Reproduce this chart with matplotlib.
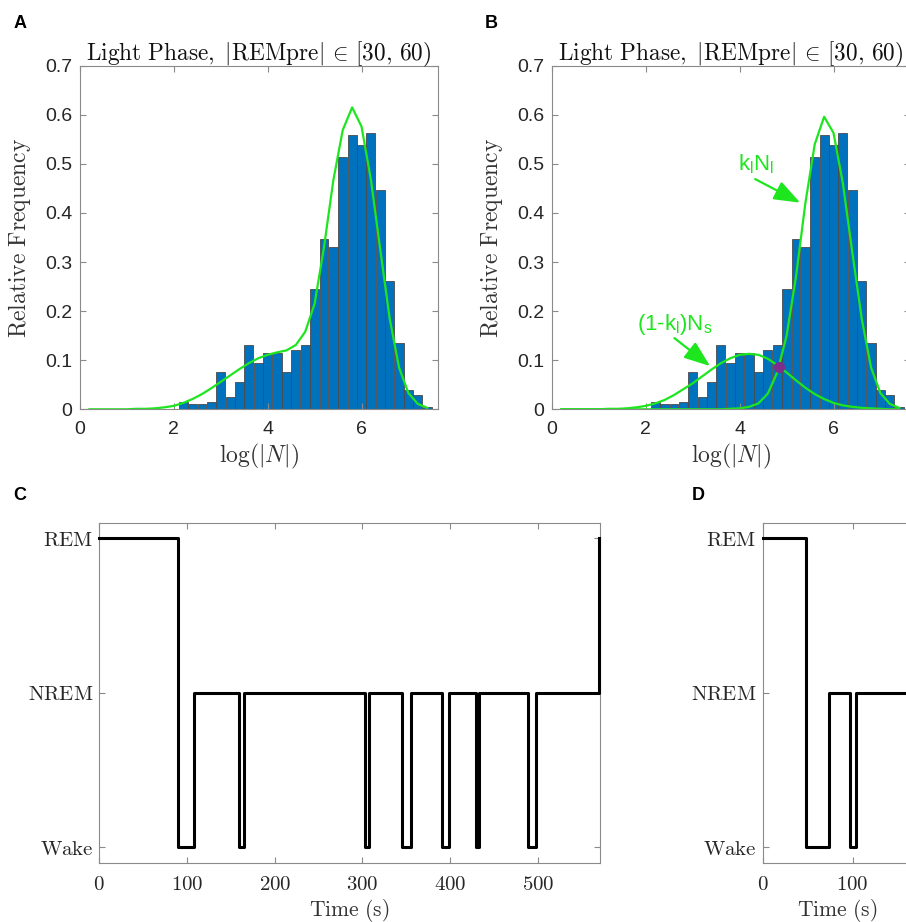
import numpy as np
import matplotlib
matplotlib.use("Agg")
import matplotlib.pyplot as plt

plt.rcParams['mathtext.fontset'] = 'cm'
plt.rcParams['mathtext.rm'] = 'Liberation Sans'
plt.rcParams['font.family'] = ['Liberation Sans', 'DejaVu Sans']

# histogram of log(|N|), light phase, |REMpre| in [30, 60)
bin_centers = [2.2, 2.4, 2.6, 2.8, 3.0, 3.2, 3.4, 3.6, 3.8, 4.0, 4.2, 4.4, 4.6, 4.8,
               5.0, 5.2, 5.4, 5.6, 5.8, 6.0, 6.2, 6.4, 6.6, 6.8, 7.0, 7.2, 7.4]
rel_freq = [0.014, 0.010, 0.010, 0.014, 0.075, 0.025, 0.055, 0.130, 0.095, 0.114,
            0.115, 0.075, 0.120, 0.130, 0.245, 0.346, 0.331, 0.513, 0.558, 0.538,
            0.563, 0.446, 0.261, 0.135, 0.039, 0.029, 0.005]

# fitted mixture, evaluated on a grid
fit_x = [0.2, 0.4, 0.6, 0.8, 1.0, 1.2, 1.4, 1.6, 1.8, 2.0, 2.2, 2.4, 2.6, 2.8, 3.0,
         3.2, 3.4, 3.6, 3.8, 4.0, 4.2, 4.4, 4.6, 4.8, 5.0, 5.2, 5.4, 5.6, 5.8, 6.0,
         6.2, 6.4, 6.6, 6.8, 7.0, 7.2, 7.4]
fit_total = [0.0, 0.0, 0.0, 0.0, 0.0, 0.001, 0.001, 0.002, 0.004, 0.007, 0.013, 0.021,
             0.031, 0.043, 0.056, 0.069, 0.082, 0.094, 0.104, 0.111, 0.116, 0.120,
             0.131, 0.158, 0.215, 0.330, 0.467, 0.569, 0.615, 0.576, 0.468, 0.325,
             0.185, 0.085, 0.033, 0.011, 0.003]
fit_short = [0.0, 0.0, 0.0, 0.0, 0.0, 0.001, 0.001, 0.002, 0.004, 0.007, 0.012, 0.019,
             0.029, 0.041, 0.053, 0.067, 0.081, 0.094, 0.104, 0.111, 0.113, 0.111,
             0.103, 0.090, 0.075, 0.059, 0.044, 0.031, 0.021, 0.013, 0.008, 0.005,
             0.003, 0.002, 0.001, 0.0, 0.0]
fit_long = [0.0, 0.0, 0.0, 0.0, 0.0, 0.0, 0.0, 0.0, 0.0, 0.0, 0.0, 0.0, 0.0, 0.0, 0.0,
            0.0, 0.0, 0.0, 0.001, 0.002, 0.005, 0.012, 0.032, 0.075, 0.150, 0.270,
            0.420, 0.540, 0.596, 0.563, 0.460, 0.320, 0.185, 0.085, 0.033, 0.011, 0.003]
cross_x, cross_y = 4.84, 0.086

# hypnograms: 0 = Wake, 1 = NREM, 2 = REM
states = ['Wake', 'NREM', 'REM']
c_times = [0, 89.5, 107.4, 159.6, 164.6, 302.9, 307.4, 345.5, 355.4, 390.9, 398.1,
           429.6, 432.4, 488.4, 498.3, 570.0]
c_states = [2, 0, 1, 0, 1, 0, 1, 0, 1, 0, 1, 0, 1, 0, 1, 2]
d_times = [0, 48.1, 74.0, 97.4, 104.4, 166]
d_states = [2, 0, 1, 0, 1, 1]

green = '#1ee61e'
blue = '#0072bd'
spine_col = '#8a8a8a'
txt_col = '#262626'

fig = plt.figure(figsize=(9.06, 9.22), dpi=100)
W, H = 906.0, 922.0


def px_axes(left, top, right, bottom):
    return fig.add_axes([left / W, 1 - bottom / H, (right - left) / W, (bottom - top) / H])


def style(ax, size, xpad, ypad):
    for s in ax.spines.values():
        s.set_color(spine_col)
        s.set_linewidth(0.8)
    ax.tick_params(direction='in', length=4, width=0.8, color=spine_col,
                   labelcolor=txt_col, labelsize=size, top=True, right=True)
    ax.tick_params(axis='x', pad=xpad)
    ax.tick_params(axis='y', pad=ypad)


title = r'$\mathrm{Light\ Phase,\ |REMpre|}\,\in\,[30,\,60)$'

ax_a = px_axes(80, 65.7, 438, 409.3)
ax_b = px_axes(552, 65.7, 910, 409.3)
for ax in (ax_a, ax_b):
    ax.bar(bin_centers, rel_freq, width=0.19, color=blue, edgecolor='#4a4a4a', linewidth=0.6)
    ax.set_xlim(0, 7.63)
    ax.set_ylim(0, 0.7)
    ax.set_xticks([0, 2, 4, 6])
    ax.set_yticks([0, 0.1, 0.2, 0.3, 0.4, 0.5, 0.6, 0.7],
                  labels=['0', '0.1', '0.2', '0.3', '0.4', '0.5', '0.6', '0.7'])
    style(ax, 14, 8.5, 5.5)
    ax.set_title(title, fontsize=16.8, pad=4, color='#111111')
    ax.set_ylabel(r'$\mathrm{Relative\ Frequency}$', fontsize=17, color='#333333')
    ax.yaxis.set_label_coords(-0.131, 0.5)
    ax.set_xlabel(r'$\log(|N|)$', fontsize=17, color='#333333')
    ax.xaxis.set_label_coords(0.5, -0.095)

ax_a.plot(fit_x, fit_total, color=green, lw=1.6)

ax_b.plot(fit_x, fit_short, color=green, lw=1.6)
ax_b.plot(fit_x, fit_long, color=green, lw=1.6)
ax_b.plot(cross_x, cross_y, 'o', color='#7e2f8e', ms=7, zorder=5)
arrow = dict(arrowstyle='-|>,head_length=0.8,head_width=0.3', color=green, lw=1.6,
             mutation_scale=20, shrinkA=0, shrinkB=0)
ax_b.annotate('', xy=(5.29, 0.421), xytext=(4.33, 0.469), arrowprops=arrow)
ax_b.annotate('', xy=(3.37, 0.088), xytext=(2.61, 0.145), arrowprops=arrow)
ax_b.text(4.35, 0.487, r'$\mathrm{k_lN_l}$', color=green, fontsize=16, ha='center',
          va='baseline', math_fontfamily='custom')
ax_b.text(2.61, 0.161, r'$\mathrm{(1\text{-}k_l)N_s}$', color=green, fontsize=16,
          ha='center', va='baseline', math_fontfamily='custom')

ax_c = px_axes(99.3, 522.7, 600, 862.7)
ax_d = px_axes(762.5, 522.7, 762.5 + 0.9 * 166, 862.7)
for ax, t, s, xmax in ((ax_c, c_times, c_states, 570.8), (ax_d, d_times, d_states, 166)):
    ax.step(t, s, where='post', color='black', lw=2.2, clip_on=False, zorder=3)
    ax.set_xlim(0, xmax)
    ax.set_ylim(-0.1, 2.1)
    ticks = list(range(0, int(xmax) + 1, 100))
    ax.set_xticks(ticks, labels=[f'${v}$' for v in ticks])
    ax.set_yticks([0, 1, 2], labels=[r'$\mathrm{%s}$' % n for n in states])
    style(ax, 15, 8.5, 4.5)
    ax.set_xlabel(r'$\mathrm{Time\ (s)}$', fontsize=15.5, color='#333333')
    ax.xaxis.set_label_coords(0.5, -0.1)

for letter, x, y in (('A', 20, 24), ('B', 491, 24), ('C', 20, 495), ('D', 698, 495)):
    fig.text(x / W, 1 - y / H, letter, fontsize=13, fontweight='bold', ha='center',
             va='center')

fig.savefig('out.png', dpi=100)
